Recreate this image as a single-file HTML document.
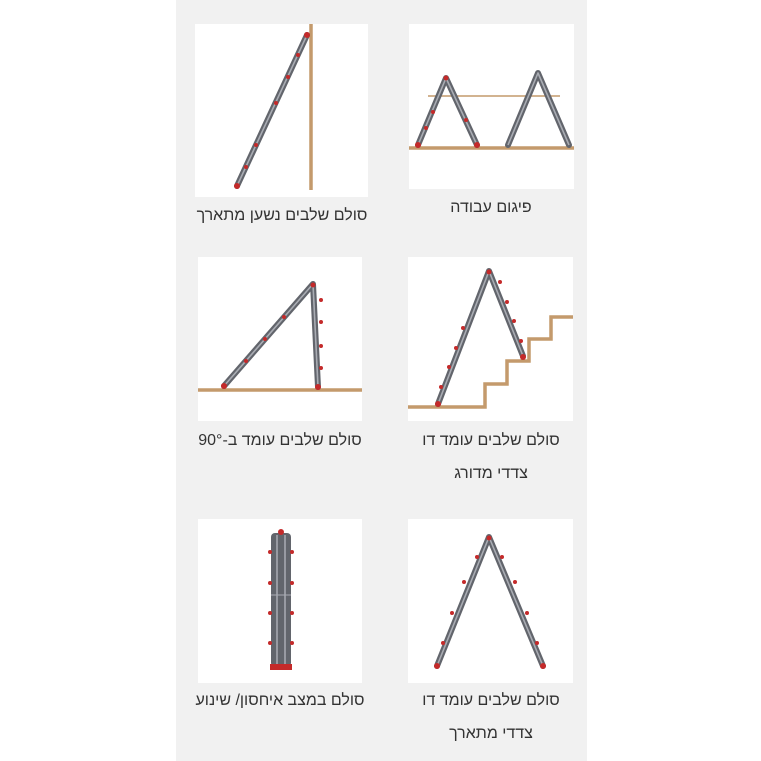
<!DOCTYPE html>
<html lang="he"><head><meta charset="utf-8">
<style>
html,body{margin:0;padding:0;width:761px;height:761px;background:#fff;overflow:hidden;font-family:"Liberation Sans","Noto Sans CJK SC",sans-serif;}
#panel{position:absolute;left:176px;top:0;width:411px;height:761px;background:#f1f1f1;}
.cap{position:absolute;direction:rtl;text-align:center;font-size:16px;color:#333;line-height:33px;white-space:nowrap;}
svg{position:absolute;left:0;top:0;}
.lad{fill:none;stroke:#62656c;stroke-width:6;stroke-linejoin:round;stroke-linecap:round}
.lad2{fill:none;stroke:#a9acb3;stroke-width:1.6;stroke-linejoin:round}
.wood{fill:none;stroke:#c49a6c;stroke-width:3.5}
.red{fill:#c42a2a}
</style></head><body>
<div id="panel"></div>
<svg width="761" height="761">
<rect x="195" y="24" width="173" height="173" fill="#fff"/>
<rect x="409" y="24" width="165" height="165" fill="#fff"/>
<rect x="198" y="257" width="164" height="164" fill="#fff"/>
<rect x="408" y="257" width="165" height="164" fill="#fff"/>
<rect x="198" y="519" width="164" height="164" fill="#fff"/>
<rect x="408" y="519" width="165" height="164" fill="#fff"/>

<g>
<line class="wood" x1="311" y1="24" x2="311" y2="190"/>
<polyline class="lad" points="237,186 307,35"/><polyline class="lad2" points="237,186 307,35"/>
<circle class="red" cx="237" cy="186" r="3"/><circle class="red" cx="307" cy="35" r="3"/>
<circle class="red" cx="246" cy="167" r="2"/><circle class="red" cx="256" cy="145" r="2"/><circle class="red" cx="276" cy="103" r="2"/><circle class="red" cx="288" cy="77" r="2"/><circle class="red" cx="298" cy="55" r="2"/>
</g>
<g>
<line class="wood" x1="409" y1="148" x2="574" y2="148"/>
<line stroke="#c49a6c" stroke-width="1.5" x1="428" y1="96" x2="560" y2="96"/>
<polyline class="lad" points="418,145 446,78 477,145"/><polyline class="lad2" points="418,145 446,78 477,145"/>
<polyline class="lad" points="508,145 538,73 569,145"/><polyline class="lad2" points="508,145 538,73 569,145"/>
<circle class="red" cx="418" cy="145" r="3"/><circle class="red" cx="477" cy="145" r="3"/><circle class="red" cx="446" cy="78" r="2.5"/>
<circle class="red" cx="426" cy="128" r="2"/><circle class="red" cx="433" cy="112" r="2"/><circle class="red" cx="466" cy="120" r="2"/>
</g>
<g>
<line class="wood" x1="198" y1="390" x2="362" y2="390"/>
<polyline class="lad" points="224,386 313,284 318,387"/><polyline class="lad2" points="224,386 313,284 318,387"/>
<circle class="red" cx="224" cy="386" r="3"/><circle class="red" cx="318" cy="387" r="3"/><circle class="red" cx="313" cy="285" r="2.5"/>
<circle class="red" cx="246" cy="361" r="2"/><circle class="red" cx="265" cy="339" r="2"/><circle class="red" cx="284" cy="317" r="2"/>
<circle class="red" cx="321" cy="300" r="2"/><circle class="red" cx="321" cy="322" r="2"/><circle class="red" cx="321" cy="346" r="2"/><circle class="red" cx="321" cy="368" r="2"/>
</g>
<g>
<polyline class="wood" points="408,407 485,407 485,384 507,384 507,361 529,361 529,339 551,339 551,317 573,317"/>
<polyline class="lad" points="438,404 489,271 523,356"/><polyline class="lad2" points="438,404 489,271 523,356"/>
<circle class="red" cx="438" cy="404" r="3"/><circle class="red" cx="523" cy="357" r="3"/><circle class="red" cx="489" cy="272" r="2.5"/>
<circle class="red" cx="441" cy="387" r="2"/><circle class="red" cx="449" cy="367" r="2"/><circle class="red" cx="456" cy="348" r="2"/><circle class="red" cx="463" cy="328" r="2"/>
<circle class="red" cx="500" cy="282" r="2"/><circle class="red" cx="507" cy="302" r="2"/><circle class="red" cx="514" cy="321" r="2"/><circle class="red" cx="521" cy="341" r="2"/>
</g>
<g>
<rect x="271" y="533" width="20" height="134" rx="4" fill="#62656c"/>
<line x1="277" y1="535" x2="277" y2="666" stroke="#a9acb3" stroke-width="1.5"/>
<line x1="285" y1="535" x2="285" y2="666" stroke="#a9acb3" stroke-width="1.5"/>
<line x1="271" y1="595" x2="291" y2="595" stroke="#a9acb3" stroke-width="1"/>
<circle class="red" cx="281" cy="532" r="3"/>
<rect x="270" y="664" width="22" height="6" class="red"/>
<circle class="red" cx="270" cy="552" r="2"/><circle class="red" cx="292" cy="552" r="2"/>
<circle class="red" cx="270" cy="583" r="2"/><circle class="red" cx="292" cy="583" r="2"/>
<circle class="red" cx="270" cy="613" r="2"/><circle class="red" cx="292" cy="613" r="2"/>
<circle class="red" cx="270" cy="643" r="2"/><circle class="red" cx="292" cy="643" r="2"/>
</g>
<g>
<polyline class="lad" points="437,666 489,537 543,666"/><polyline class="lad2" points="437,666 489,537 543,666"/>
<circle class="red" cx="437" cy="666" r="3"/><circle class="red" cx="543" cy="666" r="3"/><circle class="red" cx="489" cy="538" r="2.5"/>
<circle class="red" cx="443" cy="643" r="2"/><circle class="red" cx="452" cy="613" r="2"/><circle class="red" cx="464" cy="582" r="2"/><circle class="red" cx="477" cy="557" r="2"/>
<circle class="red" cx="537" cy="643" r="2"/><circle class="red" cx="527" cy="613" r="2"/><circle class="red" cx="515" cy="582" r="2"/><circle class="red" cx="502" cy="557" r="2"/>
</g>
</svg>
<div class="cap" style="left:182px;top:199px;width:200px">סולם שלבים נשען מתארך</div>
<div class="cap" style="left:391px;top:191px;width:200px">פיגום עבודה</div>
<div class="cap" style="left:180px;top:424px;width:200px">סולם שלבים עומד ב-90°</div>
<div class="cap" style="left:391px;top:424px;width:200px">סולם שלבים עומד דו<br>צדדי מדורג</div>
<div class="cap" style="left:180px;top:684px;width:200px">סולם במצב איחסון/ שינוע</div>
<div class="cap" style="left:391px;top:684px;width:200px">סולם שלבים עומד דו<br>צדדי מתארך</div>
</body></html>
